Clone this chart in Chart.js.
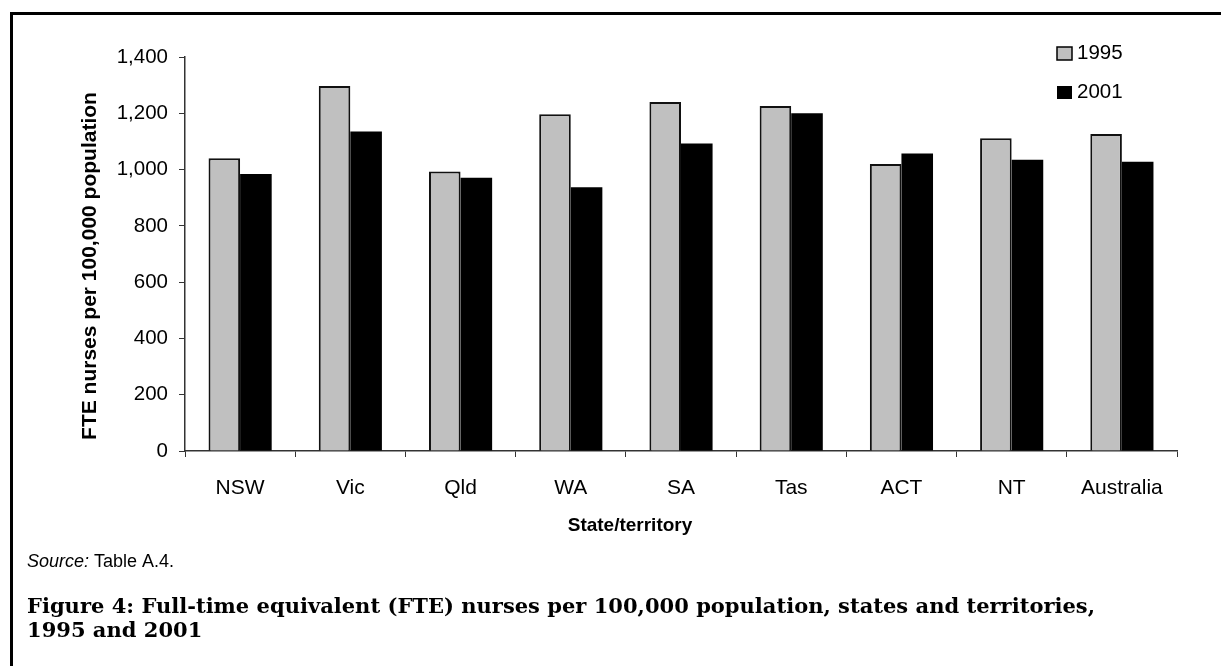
<!DOCTYPE html>
<html>
<head>
<meta charset="utf-8">
<script src="https://cdn.jsdelivr.net/npm/chart.js@4/dist/chart.umd.min.js"></script>
<style>
  html, body { margin: 0; padding: 0; background: #fff; }
  #wrap { position: relative; width: 1221px; height: 666px; }
</style>
</head>
<body>
<div id="wrap"><canvas id="chart" width="1221" height="666"></canvas></div>
<script>
// 数据
const categories = ['NSW', 'Vic', 'Qld', 'WA', 'SA', 'Tas', 'ACT', 'NT', 'Australia'];
const values1995 = [1040, 1297, 993, 1197, 1240, 1226, 1020, 1111, 1126];
const values2001 = [984, 1135, 971, 937, 1093, 1200, 1057, 1035, 1028];
const yTicks = [0, 200, 400, 600, 800, 1000, 1200, 1400];

const sans = '"Liberation Sans", Arial, sans-serif';
const serif = '"DejaVu Serif", "Liberation Serif", serif';

// 额外文字、图例和边框
const decorPlugin = {
    id: 'decor',
    afterDraw(chart) {
        const ctx = chart.ctx;
        ctx.save();

        // 边框 (上, 左)
        ctx.fillStyle = '#000';
        ctx.fillRect(10, 12, 1211, 3);
        ctx.fillRect(10, 12, 3, 654);

        // y 轴标题
        ctx.font = 'bold 21px ' + sans;
        ctx.textAlign = 'center';
        ctx.textBaseline = 'middle';
        ctx.translate(90, 266);
        ctx.rotate(-Math.PI / 2);
        ctx.fillText('FTE nurses per 100,000 population', 0, 0);
        ctx.setTransform(1, 0, 0, 1, 0, 0);

        // x 轴标题
        ctx.font = 'bold 19px ' + sans;
        ctx.fillText('State/territory', 630, 526);

        // 图例
        const ds = chart.data.datasets;
        const legendY = [53, 92];
        ds.forEach((d, i) => {
            ctx.fillStyle = d.backgroundColor;
            ctx.fillRect(1057, legendY[i] - 6, 15, 13);
            if (i === 0) {
                ctx.strokeStyle = '#000';
                ctx.lineWidth = 1.5;
                ctx.strokeRect(1057, legendY[i] - 6, 15, 13);
            }
            ctx.fillStyle = '#000';
            ctx.font = '20.5px ' + sans;
            ctx.textAlign = 'left';
            ctx.fillText(d.label, 1077, legendY[i]);
        });

        // 来源
        ctx.textAlign = 'left';
        ctx.font = 'italic 18px ' + sans;
        ctx.fillText('Source:', 27, 562);
        const w = ctx.measureText('Source: ').width;
        ctx.font = '18px ' + sans;
        ctx.fillText('Table A.4.', 27 + w, 562);

        // 图标题 (按原宽度调整)
        const line1 = 'Figure 4: Full-time equivalent (FTE) nurses per 100,000 population, states and territories,';
        ctx.font = 'bold 21px ' + serif;
        const sx = 1068 / ctx.measureText(line1).width;
        ctx.translate(27, 0);
        ctx.scale(sx, 1);
        ctx.fillText(line1, 0, 608);
        ctx.fillText('1995 and 2001', 0, 632);

        ctx.restore();
    }
};

new Chart(document.getElementById('chart'), {
    type: 'bar',
    data: {
        labels: categories,
        datasets: [{
            label: '1995',
            data: values1995,
            backgroundColor: '#c0c0c0',
            borderColor: '#111',
            borderWidth: 2,
            barPercentage: 1,
            categoryPercentage: 0.573
        }, {
            label: '2001',
            data: values2001,
            backgroundColor: '#000',
            borderColor: '#000',
            borderWidth: 0,
            barPercentage: 1,
            categoryPercentage: 0.573
        }]
    },
    options: {
        responsive: false,
        animation: false,
        layout: {
            padding: { left: 0, right: 44, top: 57, bottom: 0 }
        },
        scales: {
            x: {
                grid: {
                    drawOnChartArea: false,
                    drawTicks: true,
                    tickLength: 6,
                    color: '#333'
                },
                border: { color: '#333', width: 1.5 },
                ticks: {
                    color: '#000',
                    font: { family: sans, size: 21 },
                    padding: 19,
                    maxRotation: 0
                },
                afterFit(scale) { scale.height = 666 - 451; }
            },
            y: {
                min: 0,
                max: 1400,
                afterBuildTicks(scale) {
                    scale.ticks = yTicks.map(v => ({ value: v }));
                },
                grid: {
                    drawOnChartArea: false,
                    drawTicks: true,
                    tickLength: 6,
                    color: '#333'
                },
                border: { color: '#333', width: 1.5 },
                ticks: {
                    color: '#000',
                    font: { family: sans, size: 20.5 },
                    padding: 11,
                    callback: v => v.toLocaleString('en-US')
                },
                afterFit(scale) { scale.width = 185; }
            }
        },
        plugins: {
            legend: { display: false },
            tooltip: { enabled: false }
        }
    },
    plugins: [decorPlugin]
});
</script>
</body>
</html>
